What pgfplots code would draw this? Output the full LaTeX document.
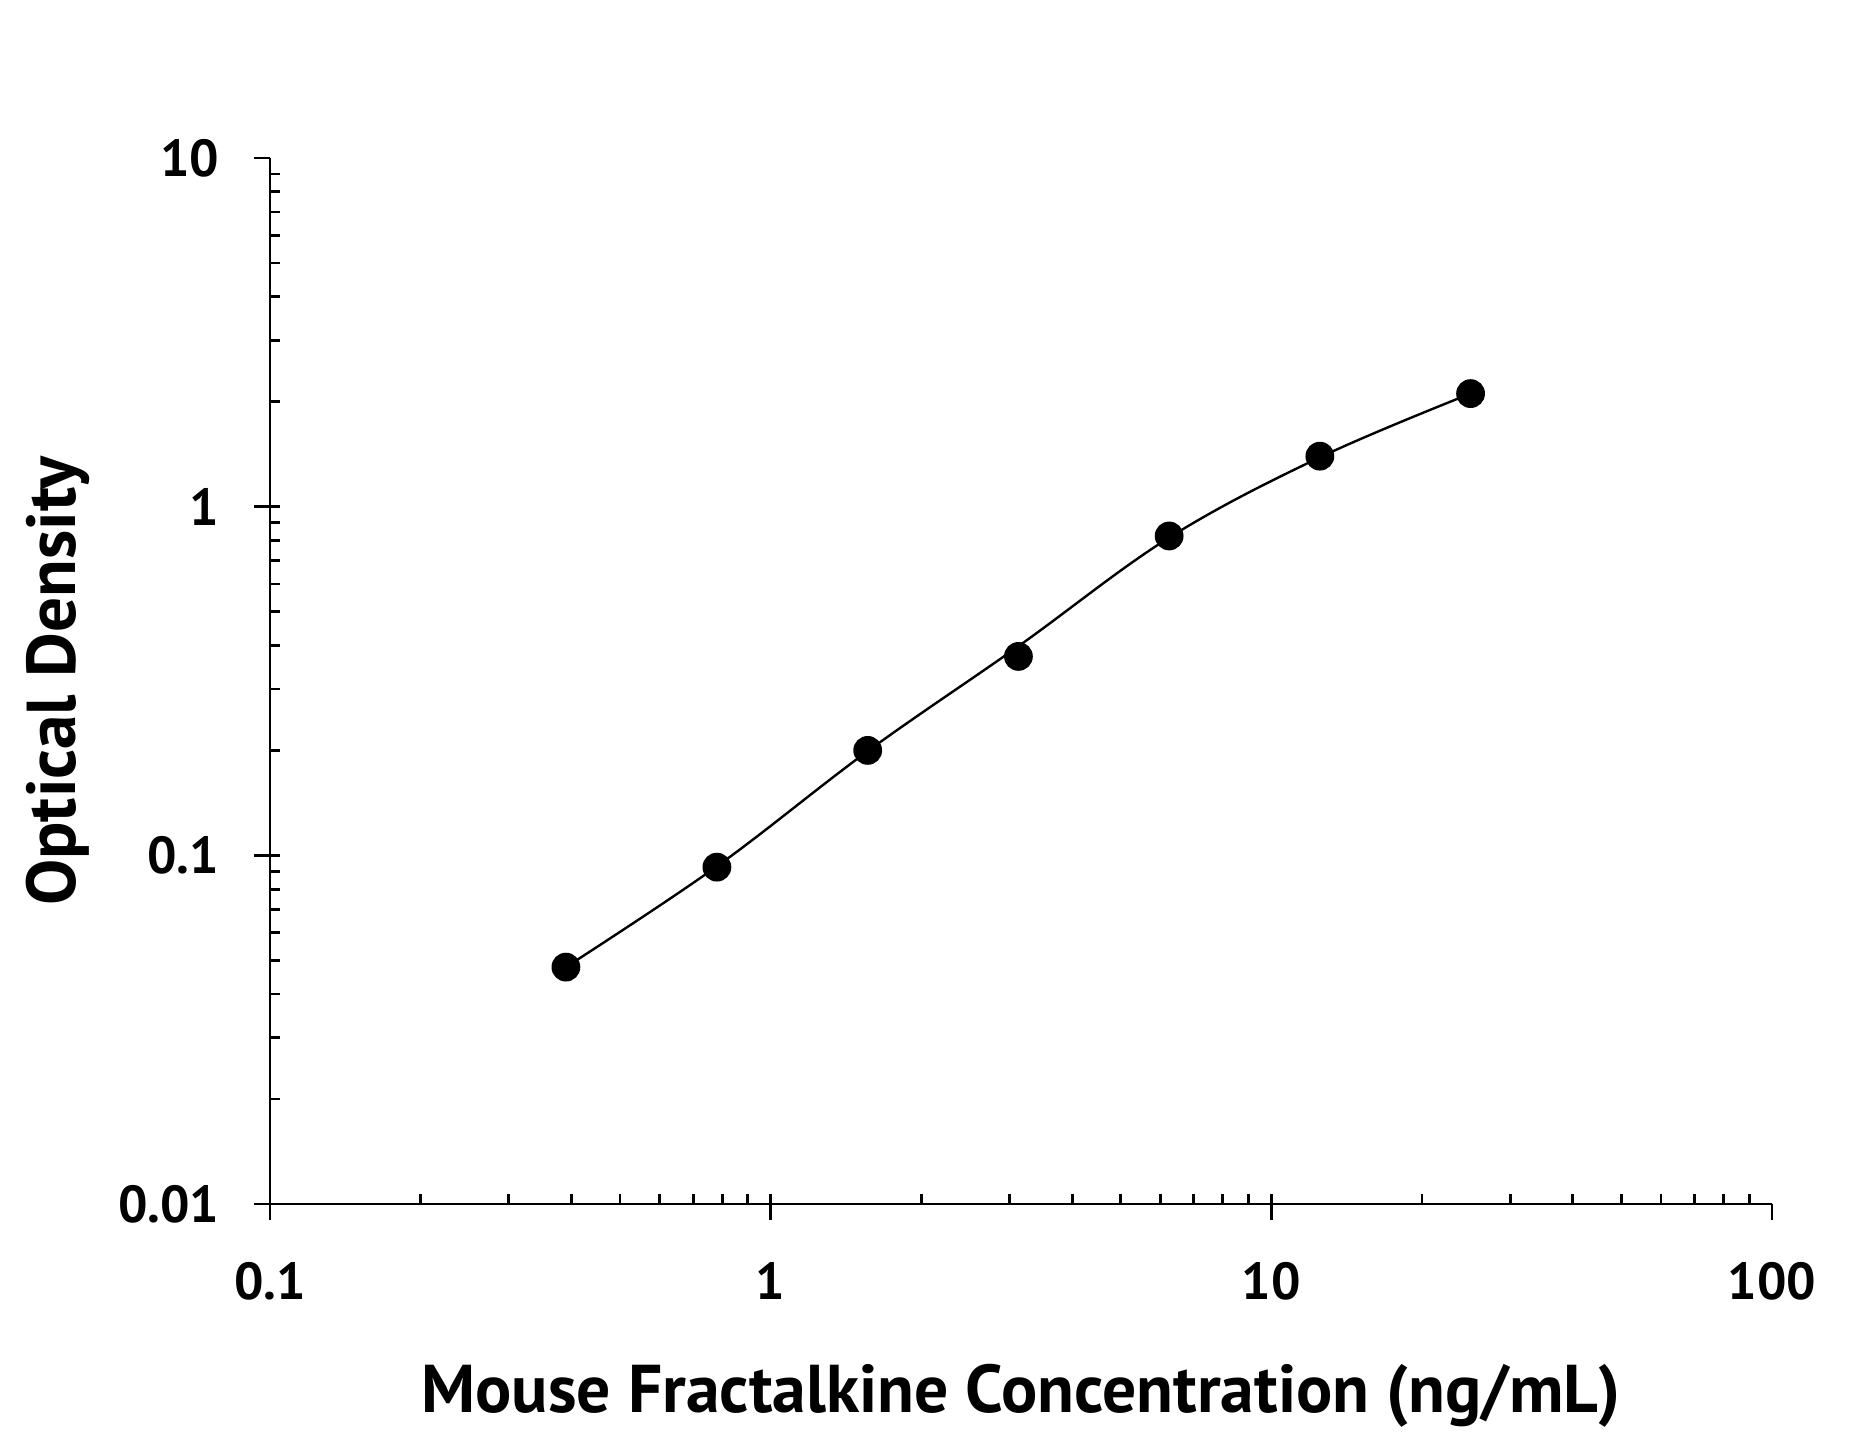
\documentclass[border=0pt]{standalone}
\usepackage{fontspec}
\setmainfont{PT Sans}
\usepackage{pgfplots}
\pgfplotsset{compat=1.18}

% measured points
\pgfplotstableread{
x      y
0.390  0.0478
0.781  0.0925
1.5625 0.200
3.125  0.372
6.25   0.824
12.5   1.396
25     2.11
}\odtable

% fitted curve
\pgfplotstableread{
x      y
0.390  0.0478
0.781  0.0930
1.5625 0.199
3.125  0.398
6.25   0.815
12.5   1.385
25     2.11
}\fittable

\begin{document}
\begin{tikzpicture}
\useasboundingbox (-67.5pt,-57.25pt) rectangle (395.5pt,301pt);
\begin{axis}[
  at={(0,0)}, anchor=south west,
  width=375.5pt, height=261.5pt, scale only axis,
  xmode=log, ymode=log,
  xmin=0.1, xmax=100, ymin=0.01, ymax=10,
  axis x line*=bottom, axis y line*=left,
  axis line style={line width=0.7pt},
  tick style={black, line width=0.7pt},
  tick align=outside,
  major tick length=4pt, minor tick length=-2.5pt,
  xtick={0.1,1,10,100}, xticklabels={0.1,1,10,100},
  ytick={0.01,0.1,1,10}, yticklabels={0.01,0.1,1,10},
  ticklabel style={font=\fontsize{13}{13}\selectfont\bfseries, inner sep=0pt},
  xticklabel shift=10.5pt, yticklabel shift=8.5pt,
  xlabel={Mouse Fractalkine Concentration (ng/mL)},
  ylabel={Optical Density},
  xlabel style={font=\fontsize{16.9}{16.9}\selectfont\bfseries, inner sep=0pt,
    at={([yshift=-52pt]axis description cs:0.5,0)}, anchor=base},
  ylabel style={font=\fontsize{17.3}{17.3}\selectfont\bfseries, inner sep=0pt,
    at={([xshift=-48.5pt]axis description cs:0,0.5)}, anchor=base},
  clip=false,
]
\addplot[black, line width=0.6pt, smooth, tension=0.6, no marks] table {\fittable};
\addplot[black, only marks, mark=*, mark size=3.4pt] table {\odtable};
\end{axis}
\end{tikzpicture}
\end{document}
